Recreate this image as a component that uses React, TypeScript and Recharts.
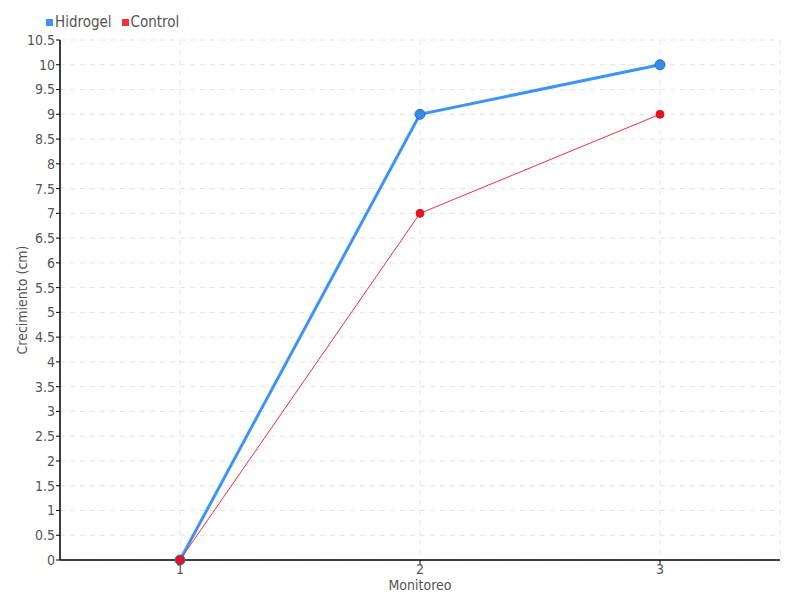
import { LineChart, Line, XAxis, YAxis, CartesianGrid, Legend } from "recharts";

const monitoreo = ["1", "2", "3"];
const hidrogel = [0, 9, 10];
const control = [0, 7, 9];
const yTicks = [0, 0.5, 1, 1.5, 2, 2.5, 3, 3.5, 4, 4.5, 5, 5.5, 6, 6.5, 7, 7.5, 8, 8.5, 9, 9.5, 10, 10.5];
const seriesOrder = ["Hidrogel", "Control"];

const data = monitoreo.map((m, i) => ({
  monitoreo: m,
  Hidrogel: hidrogel[i],
  Control: control[i],
}));

const font = "'DejaVu Sans Condensed', 'DejaVu Sans', sans-serif";
const textStyle = { fill: "#555", fontSize: 14, fontFamily: font };

export default function App() {
  return (
    <div
      style={{
        position: "fixed",
        top: 0,
        left: 0,
        width: 800,
        height: 600,
        background: "#fff",
        fontFamily: font,
        fontStretch: "condensed",
      }}
    >
      <LineChart
        width={800}
        height={600}
        data={data}
        margin={{ top: 24, right: 20, bottom: 0, left: 0 }}
      >
        <CartesianGrid stroke="#e2e2e2" strokeDasharray="5 5" />
        <XAxis
          dataKey="monitoreo"
          scale="band"
          height={40}
          axisLine={{ stroke: "#000", strokeWidth: 1.5 }}
          tickLine={{ stroke: "#000" }}
          tickSize={4}
          tickMargin={0}
          tick={textStyle}
          label={{ value: "Monitoreo", position: "insideBottom", offset: 10, ...textStyle }}
        />
        <YAxis
          width={60}
          domain={[0, 10.5]}
          ticks={yTicks}
          interval={0}
          axisLine={{ stroke: "#000", strokeWidth: 1.5 }}
          tickLine={{ stroke: "#000" }}
          tickSize={4}
          tickMargin={1}
          tick={textStyle}
          label={{
            value: "Crecimiento (cm)",
            angle: -90,
            position: "insideLeft",
            offset: 22,
            ...textStyle,
            style: { textAnchor: "middle" },
          }}
        />
        <Legend
          verticalAlign="top"
          align="left"
          iconType="square"
          iconSize={7}
          height={16}
          itemSorter={(item: any) => seriesOrder.indexOf(item.value)}
          wrapperStyle={{ top: 14, left: 46, fontSize: 15, lineHeight: "16px" }}
          formatter={(v) => <span style={{ color: "#555", marginLeft: -2 }}>{v}</span>}
        />
        <Line
          dataKey="Hidrogel"
          stroke="#3d94f6"
          strokeWidth={3}
          dot={{ r: 5, fill: "#3a8be6", stroke: "#2a6cc4", strokeWidth: 1 }}
          isAnimationActive={false}
        />
        <Line
          dataKey="Control"
          stroke="#f0303c"
          strokeWidth={1}
          dot={{ r: 4, fill: "#e6121f", stroke: "#e6121f", strokeWidth: 1 }}
          isAnimationActive={false}
        />
      </LineChart>
    </div>
  );
}
